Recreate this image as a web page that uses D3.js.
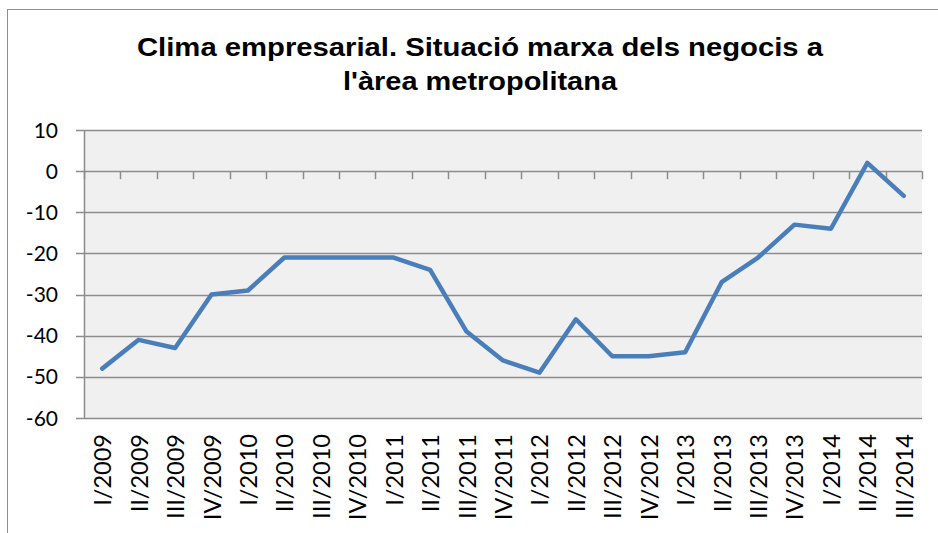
<!DOCTYPE html>
<html>
<head>
<meta charset="utf-8">
<script src="https://cdn.jsdelivr.net/npm/d3@7"></script>
<style>
  body { margin: 0; background: #fff; }
  svg { display: block; }
</style>
</head>
<body>
<svg id="chart" width="938" height="533"></svg>
<script>
const quarters = ['I/2009', 'II/2009', 'III/2009', 'IV/2009',
  'I/2010', 'II/2010', 'III/2010', 'IV/2010',
  'I/2011', 'II/2011', 'III/2011', 'IV/2011',
  'I/2012', 'II/2012', 'III/2012', 'IV/2012',
  'I/2013', 'II/2013', 'III/2013', 'IV/2013',
  'I/2014', 'II/2014', 'III/2014'];
const values = [-48, -41, -43, -30, -29, -21, -21, -21, -21, -24, -39, -46,
  -49, -36, -45, -45, -44, -27, -21, -13, -14, 2, -6];
const yTicks = [10, 0, -10, -20, -30, -40, -50, -60];
const titleLines = ['Clima empresarial. Situació marxa dels negocis a', "l'àrea metropolitana"];
const titleWidths = [686, 274];

const svg = d3.select('#chart');
const margin = {top: 130, right: 16, bottom: 115, left: 84};
const width = 938, height = 533;
const gray = '#8c8c8c';
const labelFont = 'Lato, "Open Sans", sans-serif';

// chart frame
svg.append('rect')
  .attr('x', 7.5).attr('y', 9.5)
  .attr('width', 940).attr('height', 540)
  .attr('fill', '#fff').attr('stroke', '#8e8e8e');

const x = d3.scaleBand()
  .domain(quarters)
  .range([margin.left, width - margin.right]);
const y = d3.scaleLinear()
  .domain([-60, 10])
  .range([height - margin.bottom, margin.top]);

svg.append('rect')
  .attr('x', margin.left).attr('y', y(10))
  .attr('width', x.range()[1] - margin.left)
  .attr('height', y(-60) - y(10))
  .attr('fill', '#f0f0f0');

// gridlines
svg.append('g')
  .selectAll('line')
  .data(yTicks)
  .enter()
  .append('line')
  .attr('x1', margin.left - 8)
  .attr('x2', x.range()[1])
  .attr('y1', d => Math.round(y(d)) + 0.5)
  .attr('y2', d => Math.round(y(d)) + 0.5)
  .attr('stroke', gray)
  .attr('stroke-width', 1.5);

// y axis line
svg.append('line')
  .attr('x1', margin.left + 0.5).attr('x2', margin.left + 0.5)
  .attr('y1', y(10)).attr('y2', y(-60) + 1)
  .attr('stroke', gray).attr('stroke-width', 1.5);

// y labels
svg.append('g')
  .selectAll('text')
  .data(yTicks)
  .enter()
  .append('text')
  .attr('x', 58)
  .attr('y', d => y(d) + 7.5)
  .attr('text-anchor', 'end')
  .attr('font-family', labelFont)
  .attr('font-size', 21)
  .attr('fill', '#000')
  .text(d => d);

// category tick marks on the zero line
const bounds = quarters.map(q => x(q)).concat([x.range()[1]]);
svg.append('g')
  .selectAll('line')
  .data(bounds)
  .enter()
  .append('line')
  .attr('x1', d => Math.round(d) + 0.5)
  .attr('x2', d => Math.round(d) + 0.5)
  .attr('y1', y(0))
  .attr('y2', y(0) + 8)
  .attr('stroke', gray)
  .attr('stroke-width', 1.5);

// x labels
svg.append('g')
  .selectAll('text')
  .data(quarters)
  .enter()
  .append('text')
  .attr('transform', d => 'translate(' + (x(d) + x.bandwidth() / 2 + 9) + ',' + 434 + ') rotate(-90)')
  .attr('text-anchor', 'end')
  .attr('font-family', labelFont)
  .attr('font-size', 23.5)
  .attr('fill', '#000')
  .text(d => d);

// series line
const line = d3.line()
  .x((d, i) => x(quarters[i]) + x.bandwidth() / 2)
  .y(d => y(d));
svg.append('path')
  .attr('d', line(values))
  .attr('fill', 'none')
  .attr('stroke', '#4a7ebb')
  .attr('stroke-width', 4.5)
  .attr('stroke-linejoin', 'round')
  .attr('stroke-linecap', 'round');

// title
svg.append('g')
  .selectAll('text')
  .data(titleLines)
  .enter()
  .append('text')
  .attr('x', 480)
  .attr('y', (d, i) => 56 + i * 34)
  .attr('text-anchor', 'middle')
  .attr('textLength', (d, i) => titleWidths[i])
  .attr('lengthAdjust', 'spacingAndGlyphs')
  .attr('font-family', '"Liberation Sans", Arial, sans-serif')
  .attr('font-weight', 'bold')
  .attr('font-size', 26)
  .attr('fill', '#000')
  .text(d => d);
</script>
</body>
</html>
